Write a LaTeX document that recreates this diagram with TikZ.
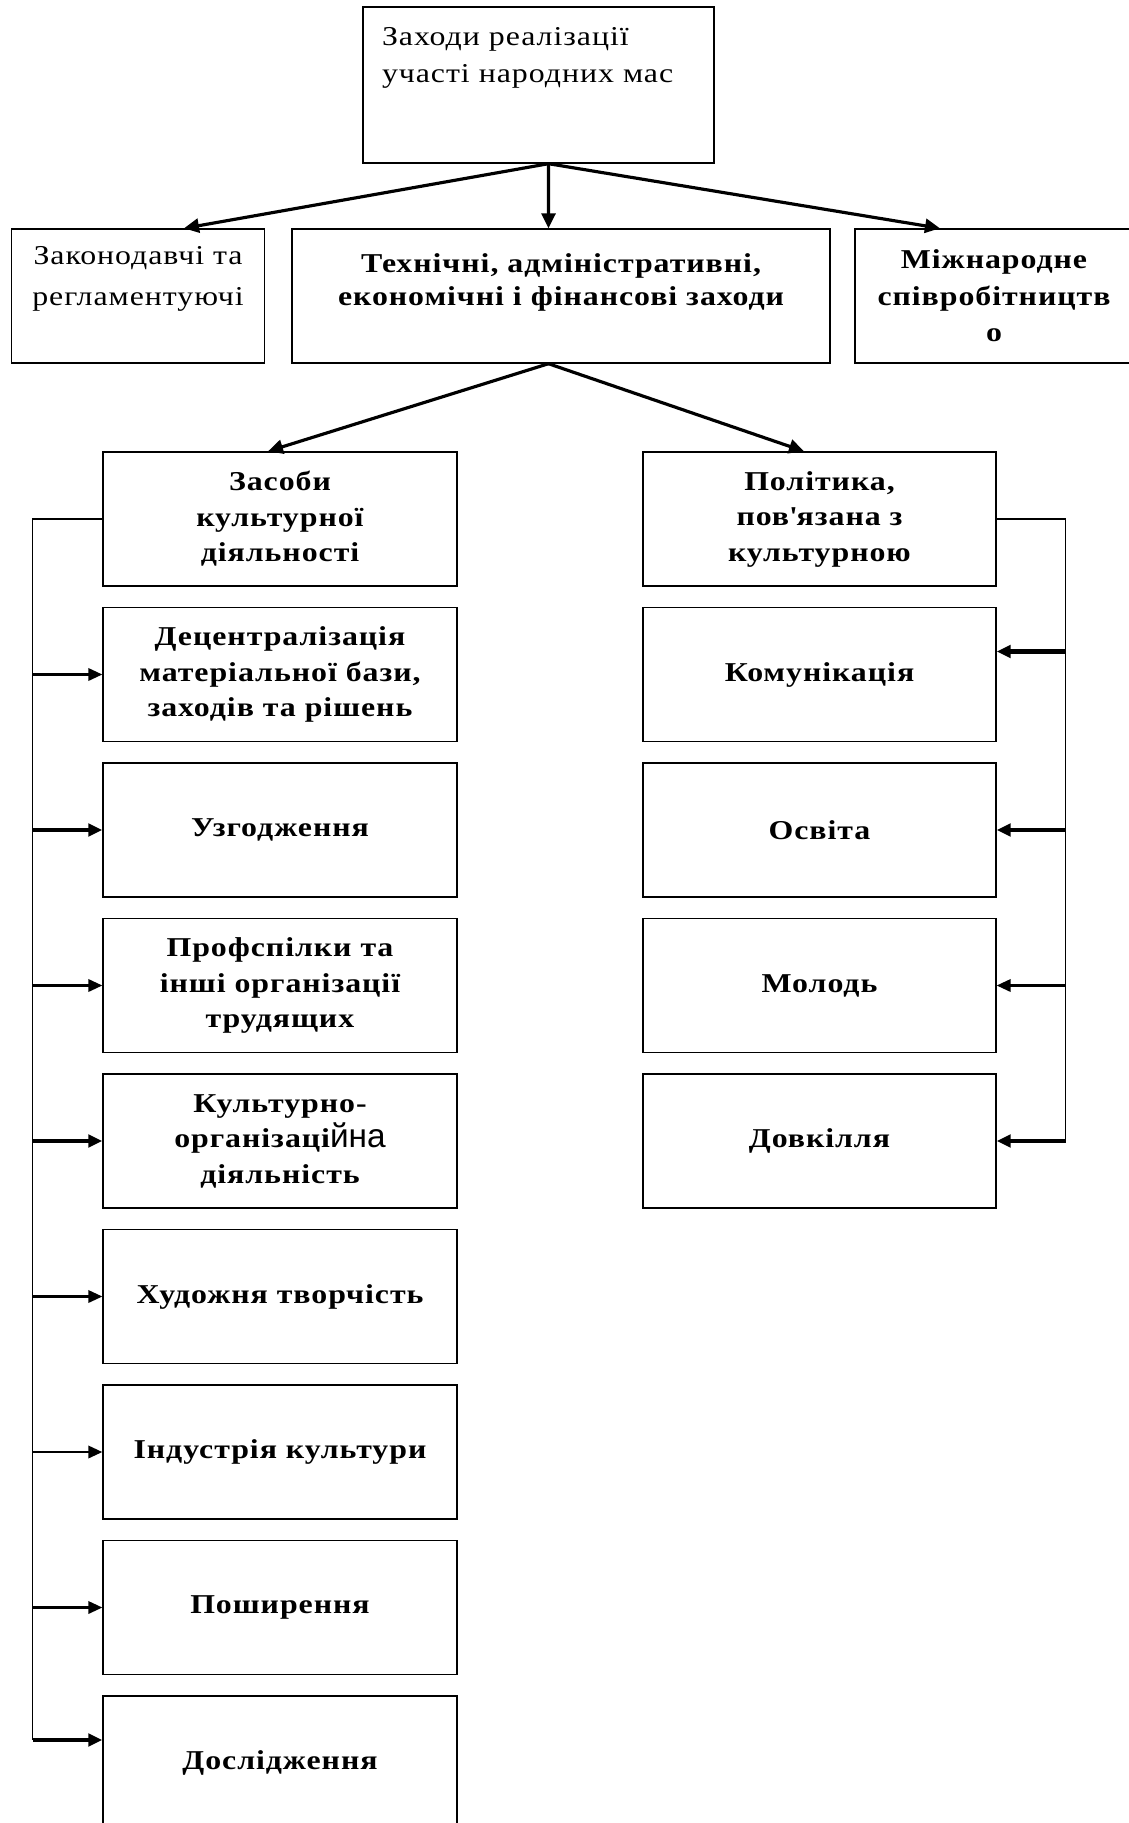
\documentclass[tikz,border=0pt]{standalone}
\usepackage{fontspec}
\setmainfont[FakeStretch=1.17, LetterSpace=3.5]{Liberation Serif}
\newfontfamily\sansfont{Liberation Sans}
\usetikzlibrary{arrows.meta,calc}

\begin{document}
\begin{tikzpicture}[
    box/.style={draw, line width=0.8pt, minimum height=2.68cm, align=center, inner sep=2pt, font=\bfseries\fontsize{15.5}{20.2}\selectfont},
    leftbox/.style={box, minimum width=7.08cm},
    rightbox/.style={box, minimum width=7.06cm},
    mainarrow/.style={line width=1.8pt, -{Triangle[length=0.3cm,width=0.28cm]}},
    branch/.style={line width=1.2pt, -{Triangle[length=0.28cm,width=0.25cm]}},
    branch bold/.style={branch, line width=2.3pt},
    bus/.style={line width=0.85pt}
  ]
  %%%%% START %%%%%
  \useasboundingbox (0,0) rectangle (22.58,-36.46);

  \node[draw, line width=0.8pt, minimum width=7.02cm, minimum height=3.12cm, text width=6.26cm, align=left, text height=0.4cm, text depth=1.96cm, font=\fontsize{15.5}{21}\selectfont] (top) at (10.77,-1.70) {Заходи реалізації\\участі народних мас};

  \node[box, minimum width=5.06cm, font=\fontsize{15.5}{22.8}\selectfont] (law) at (2.76,-5.92) {Законодавчі та\\регламентуючі\\\mbox{}};
  \node[box, minimum width=10.76cm, font=\bfseries\fontsize{15.5}{18.8}\selectfont] (tech) at (11.22,-5.92) {Технічні, адміністративні,\\економічні і фінансові заходи\\\mbox{}};
  \node[box, minimum width=5.56cm, font=\bfseries\fontsize{15.5}{20.8}\selectfont] (intl) at (19.88,-5.92) {Міжнародне\\співробітництв\\о};

  % left column
  \node[leftbox] (means) at (5.60,-10.38) {Засоби\\культурної\\діяльності};
  \node[leftbox] (decentr) at (5.60,-13.49) {Децентралізація\\матеріальної бази,\\заходів та рішень};
  \node[leftbox] (coord) at (5.60,-16.60) {Узгодження};
  \node[leftbox] (unions) at (5.60,-19.71) {Профспілки та\\інші організації\\трудящих};
  \node[leftbox] (orgwork) at (5.60,-22.82) {Культурно-\\організаці{\mdseries\sansfont\fontsize{19}{20.2}\selectfont йна}\\діяльність};
  \node[leftbox] (art) at (5.60,-25.93) {Художня творчість};
  \node[leftbox] (industry) at (5.60,-29.04) {Індустрія культури};
  \node[leftbox] (spread) at (5.60,-32.15) {Поширення};
  \node[leftbox] (research) at (5.60,-35.26) {Дослідження};

  % right column
  \node[rightbox] (policy) at (16.39,-10.38) {Політика,\\пов\textquotesingle язана з\\культурною};
  \node[rightbox] (comm) at (16.39,-13.49) {Комунікація};
  \node[rightbox] (edu) at (16.39,-16.60) {Освіта};
  \node[rightbox] (youth) at (16.39,-19.71) {Молодь};
  \node[rightbox] (environ) at (16.39,-22.82) {Довкілля};

  \coordinate (topout) at ($(top.south)+(0.2,0)$);
  \draw[mainarrow] (topout) -- ([xshift=0.92cm]law.north);
  \draw[mainarrow] (topout) -- ($(tech.north)+(-0.25,0)$);
  \draw[mainarrow] (topout) -- ([xshift=-1.08cm]intl.north);

  \coordinate (techout) at ($(tech.south)+(-0.25,0)$);
  \draw[mainarrow] (techout) -- ([xshift=-0.24cm]means.north);
  \draw[mainarrow] (techout) -- ([xshift=-0.31cm]policy.north);

  % left bus
  \coordinate (lbus) at (0.65,-34.80);
  \draw[bus] (means.west) -- (lbus |- means.west) -- (lbus);
  \draw[branch] (lbus |- decentr) -- (decentr);
  \draw[branch bold] (lbus |- coord) -- (coord);
  \draw[branch] (lbus |- unions) -- (unions);
  \draw[branch bold] (lbus |- orgwork) -- (orgwork);
  \draw[branch] (lbus |- art) -- (art);
  \draw[branch] (lbus |- industry) -- (industry);
  \draw[branch] (lbus |- spread) -- (spread);
  \draw[branch bold] (lbus) -- (lbus -| research.west);

  % right bus
  \coordinate (rbus) at (21.31,-22.82);
  \draw[bus] (policy.east) -- (rbus |- policy.east) -- (rbus);
  \draw[branch bold] ($(rbus |- comm)+(0,0.46)$) -- ($(comm.east)+(0,0.46)$);
  \draw[branch bold] (rbus |- edu) -- (edu);
  \draw[branch] (rbus |- youth) -- (youth);
  \draw[branch bold] (rbus) -- (environ);
  %%%%% END %%%%%
\end{tikzpicture}
\end{document}
